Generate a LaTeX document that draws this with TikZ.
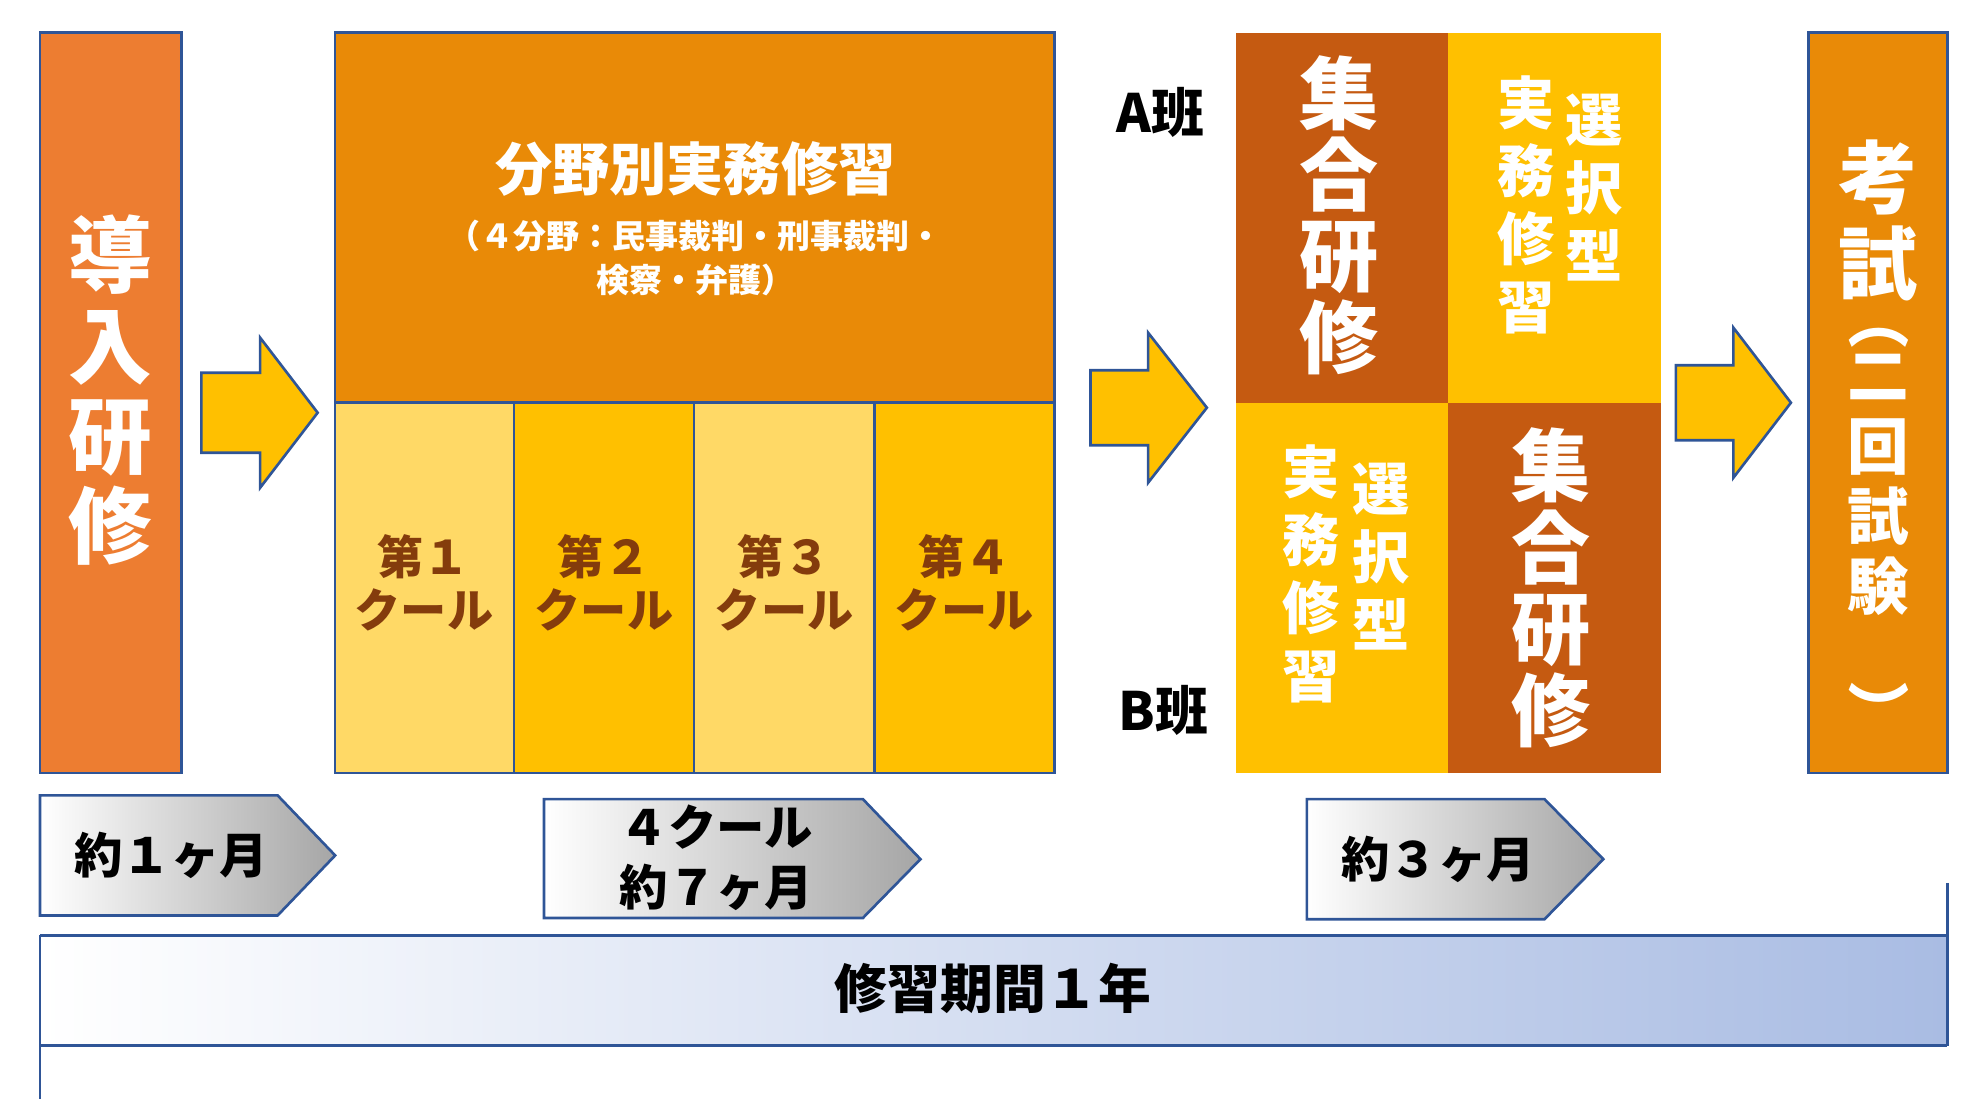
\documentclass[tikz,border=0pt]{standalone}
\usepackage{fontspec}
\setmainfont{Noto Sans CJK JP}
\usepackage{graphicx}
\usetikzlibrary{positioning}

\definecolor{introOrange}{HTML}{ED7D31}
\definecolor{fieldOrange}{HTML}{E98A07}
\definecolor{darkOrange}{HTML}{C55A11}
\definecolor{gold}{HTML}{FFC000}
\definecolor{lightGold}{HTML}{FFD966}
\definecolor{brownText}{HTML}{843C0C}
\definecolor{edgeBlue}{HTML}{2F5597}
\definecolor{barBlue}{HTML}{A9BCE3}

\tikzset{
  block/.style={draw=edgeBlue, line width=0.6pt},
  arrowshape/.style={fill=gold, draw=edgeBlue, line width=0.6pt},
  tag/.style={left color=white, right color=black!35, draw=edgeBlue, line width=0.6pt},
  vtext/.style={text=white, font=\bfseries, align=center},
  cool/.style={text=brownText, font=\bfseries\fontsize{10.5}{12}\selectfont, align=center},
}

\begin{document}
\begin{tikzpicture}[x=0.01cm, y=-0.01cm]
    \useasboundingbox (0,0) rectangle (1568,879);

    % Introduction
    \filldraw[block, fill=introOrange] (32,26) rectangle (145,618);
    \node[vtext, font=\bfseries\fontsize{19}{20.5}\selectfont] (intro) at (88,312) {導\\入\\研\\修};

    % Arrow 1
    \filldraw[arrowshape] (161,298) -- (208,298) -- (208,270) -- (254,330) -- (208,390) -- (208,362) -- (161,362) -- cycle;

    % Field-specific training
    \filldraw[block, fill=fieldOrange] (268,26) rectangle (843,322);
    \node[text=white, font=\bfseries\fontsize{13}{15}\selectfont] (field) at (556,135) {分野別実務修習};
    \node[text=white, font=\bfseries\fontsize{7.5}{10}\selectfont, align=center] (fieldsub) at (556,206)
        {（４分野：民事裁判・刑事裁判・\\検察・弁護）};
    \filldraw[block, fill=lightGold] (268,322) rectangle (411,618);
    \filldraw[block, fill=gold] (411,322) rectangle (555,618);
    \filldraw[block, fill=lightGold] (555,322) rectangle (699,618);
    \filldraw[block, fill=gold] (699,322) rectangle (843,618);
    \node[cool] (c1) at (339,466) {第１\\クール};
    \node[cool] (c2) at (483,466) {第２\\クール};
    \node[cool] (c3) at (627,466) {第３\\クール};
    \node[cool] (c4) at (771,466) {第４\\クール};

    % Arrow 2
    \filldraw[arrowshape] (872,296) -- (918,296) -- (918,266) -- (965,326) -- (918,386) -- (918,356) -- (872,356) -- cycle;

    % Groups A and B
    \node[font=\bfseries\fontsize{12}{14}\selectfont] (groupA) at (928,90) {A班};
    \node[font=\bfseries\fontsize{12}{14}\selectfont] (groupB) at (930,568) {B班};
    \fill[darkOrange] (988,26) rectangle (1158,322);
    \fill[gold] (1158,26) rectangle (1328,322);
    \fill[gold] (988,322) rectangle (1158,618);
    \fill[darkOrange] (1158,322) rectangle (1328,618);
    \node[vtext, font=\bfseries\fontsize{18}{18.5}\selectfont] (jointA) at (1071,172) {集\\合\\研\\修};
    \node[vtext, font=\bfseries\fontsize{18}{18.5}\selectfont] (jointB) at (1240,470) {集\\合\\研\\修};
    \node[vtext, font=\bfseries\fontsize{13}{15.5}\selectfont] (selA) at (1275,150) {選\\択\\型};
    \node[vtext, font=\bfseries\fontsize{13}{15.5}\selectfont] (pracA) at (1220,164) {実\\務\\修\\習};
    \node[vtext, font=\bfseries\fontsize{13}{15.5}\selectfont] (selB) at (1104,445) {選\\択\\型};
    \node[vtext, font=\bfseries\fontsize{13}{15.5}\selectfont] (pracB) at (1048,459) {実\\務\\修\\習};

    % Arrow 3
    \filldraw[arrowshape] (1340,292) -- (1386,292) -- (1386,262) -- (1432,322) -- (1386,382) -- (1386,352) -- (1340,352) -- cycle;

    % Exam
    \filldraw[block, fill=fieldOrange] (1446,26) rectangle (1557,618);
    \node[vtext, font=\bfseries\fontsize{18}{19.5}\selectfont] (exam) at (1502,176) {考\\試};
    \node[vtext, font=\bfseries\fontsize{14}{16}\selectfont] (examsub) at (1502,412)
        {\rotatebox{-90}{（}\\二\\回\\試\\験\\\rotatebox{-90}{）}};

    % Duration tags
    \filldraw[tag] (32,636) -- (222,636) -- (268,684) -- (222,732) -- (32,732) -- cycle;
    \node[font=\bfseries\fontsize{11}{13}\selectfont] (tag1) at (137,684) {約１ヶ月};
    \filldraw[tag] (435,639) -- (690,639) -- (736,687) -- (690,734) -- (435,734) -- cycle;
    \node[font=\bfseries\fontsize{11}{13.5}\selectfont, align=center] (tag2) at (573,686) {４クール\\約７ヶ月};
    \filldraw[tag] (1045,639) -- (1235,639) -- (1282,687) -- (1235,735) -- (1045,735) -- cycle;
    \node[font=\bfseries\fontsize{11}{13}\selectfont] (tag3) at (1150,687) {約３ヶ月};

    % Period bar
    \fill[left color=white, right color=barBlue] (32,748) rectangle (1557,836);
    \draw[edgeBlue, line width=0.6pt] (32,748) -- (1557,748) (32,836) -- (1557,836);
    \draw[edgeBlue, line width=0.6pt] (32,748) -- (32,879) (1557,706) -- (1557,836);
    \node[font=\bfseries\fontsize{12}{14}\selectfont] (period) at (794,790) {修習期間１年};
\end{tikzpicture}
\end{document}
